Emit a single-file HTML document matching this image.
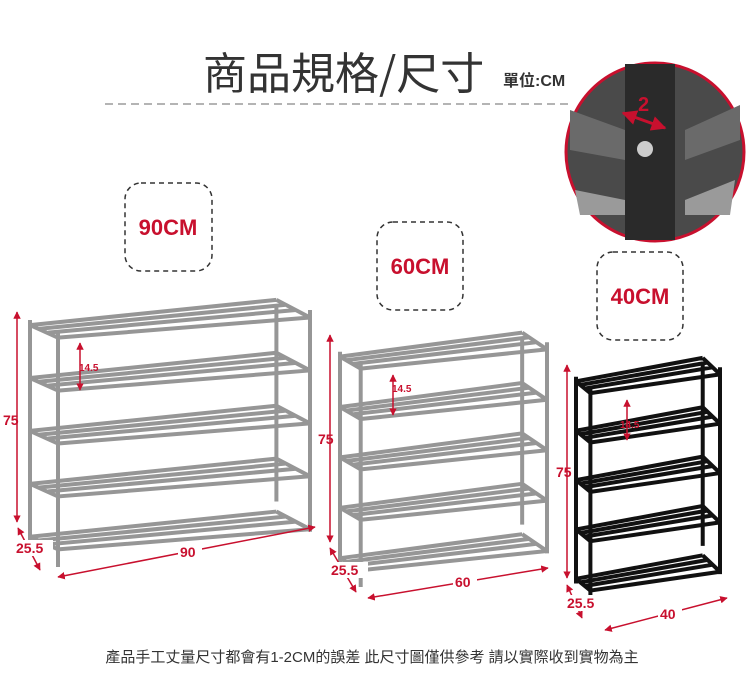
<!DOCTYPE html><html><head><meta charset="utf-8"><style>
body{margin:0;width:750px;height:691px;background:#fff;overflow:hidden;font-family:"Liberation Sans","Noto Sans CJK TC",sans-serif}
svg{position:absolute;left:0;top:0}
</style></head><body>
<svg width="750" height="691" viewBox="0 0 750 691" xmlns="http://www.w3.org/2000/svg">
<defs>
<symbol id="shelf" viewBox="0 0 100 100" preserveAspectRatio="none" overflow="visible">
 <g fill="none">
  <line x1="0" y1="2" x2="0" y2="90" vector-effect="non-scaling-stroke"/>
  <line x1="88" y1="-4" x2="88" y2="74" vector-effect="non-scaling-stroke"/>
  <path vector-effect="non-scaling-stroke" d="
  M0,4 L88,-6 M3,5.5 L91,-4 M6.5,7 L95,-2 M10,9 L100,1 M0,4 L10,9 M88,-6 L100,1
  M0,25 L88,15 M3,26.5 L91,17 M6.5,28 L95,19 M10,30 L100,22 M0,25 L10,30 M88,15 L100,22
  M0,46 L88,36 M3,47.5 L91,38 M6.5,49 L95,40 M10,51 L100,43 M0,46 L10,51 M88,36 L100,43
  M0,67 L88,57 M3,68.5 L91,59 M6.5,70 L95,61 M10,72 L100,64 M0,67 L10,72 M88,57 L100,64
  M0,88 L88,78 M3,89.5 L91,80 M6.5,91 L95,82 M10,93 L100,85 M0,88 L10,93 M88,78 L100,85"/>
  <line x1="10" y1="6" x2="10" y2="100" vector-effect="non-scaling-stroke"/>
  <line x1="100" y1="-2" x2="100" y2="86" vector-effect="non-scaling-stroke"/>
 </g>
</symbol>
<marker id="ar" viewBox="0 0 10 10" refX="9" refY="5" markerWidth="5" markerHeight="5" orient="auto-start-reverse"><path d="M0,0L10,5L0,10z" fill="#c8102e"/></marker>
</defs>

<text x="203" y="89" font-size="44" fill="#333" font-family="'Noto Sans CJK TC',sans-serif">商品規格/尺寸</text>
<text x="503" y="86" font-size="16" font-weight="bold" fill="#333" font-family="'Liberation Sans','Noto Sans CJK TC',sans-serif">單位:CM</text>
<line x1="105" y1="104" x2="570" y2="104" stroke="#888" stroke-dasharray="8,5" stroke-width="1.2"/>

<circle cx="655" cy="152" r="89" fill="#4a4a4a" stroke="#c8102e" stroke-width="3"/>
<path d="M570,110 L625,130 L625,160 L570,150z M685,130 L740,105 L740,140 L685,160z" fill="#6a6a6a"/>
<path d="M575,190 L625,200 L625,215 L580,215z M685,200 L735,180 L730,215 L685,215z" fill="#9a9a9a"/>
<rect x="625" y="64" width="50" height="176" fill="#2a2a2a"/>
<circle cx="645" cy="149" r="8" fill="#ccc"/>
<text x="638" y="111" font-size="20" font-weight="bold" fill="#c8102e">2</text>
<line x1="623" y1="113" x2="665" y2="128" stroke="#c8102e" stroke-width="3" marker-start="url(#ar)" marker-end="url(#ar)"/>

<g fill="none" stroke="#333" stroke-width="1.5" stroke-dasharray="5,4">
<rect x="125" y="183" width="87" height="88" rx="16"/>
<rect x="377" y="222" width="86" height="88" rx="16"/>
<rect x="597" y="252" width="86" height="88" rx="16"/>
</g>
<g font-size="22" font-weight="bold" fill="#c8102e" text-anchor="middle">
<text x="168" y="235">90CM</text><text x="420" y="274">60CM</text><text x="640" y="304">40CM</text>
</g>

<use href="#shelf" x="30" y="315" width="280" height="252" stroke="#969696" stroke-width="4"/>
<use href="#shelf" x="340" y="347" width="207" height="240" stroke="#969696" stroke-width="4"/>
<use href="#shelf" x="576" y="372" width="144" height="235" stroke="#111" stroke-width="4"/>

<g stroke="#c8102e" stroke-width="1.5" fill="none" marker-start="url(#ar)" marker-end="url(#ar)">
<line x1="17" y1="312" x2="17" y2="522"/>
<line x1="18" y1="528" x2="40" y2="570"/>
<line x1="58" y1="577" x2="315" y2="527"/>
<line x1="80" y1="343" x2="80" y2="390"/>
<line x1="330" y1="335" x2="330" y2="542"/>
<line x1="330" y1="548" x2="356" y2="592"/>
<line x1="368" y1="598" x2="548" y2="568"/>
<line x1="393" y1="375" x2="393" y2="415"/>
<line x1="567" y1="365" x2="567" y2="578"/>
<line x1="567" y1="585" x2="582" y2="618"/>
<line x1="605" y1="630" x2="727" y2="598"/>
<line x1="627" y1="400" x2="627" y2="440"/>
</g>
<g font-weight="bold" fill="#c8102e" font-size="14">
<text x="3" y="425">75</text><rect x="15" y="540" width="38" height="16" fill="#fff"/><text x="16" y="553">25.5</text>
<rect x="178" y="544" width="24" height="16" fill="#fff"/><text x="180" y="557">90</text>
<text x="318" y="444">75</text><rect x="330" y="562" width="38" height="16" fill="#fff"/><text x="331" y="575">25.5</text>
<rect x="453" y="574" width="24" height="16" fill="#fff"/><text x="455" y="587">60</text>
<text x="556" y="477">75</text><rect x="566" y="595" width="38" height="16" fill="#fff"/><text x="567" y="608">25.5</text>
<rect x="658" y="606" width="24" height="16" fill="#fff"/><text x="660" y="619">40</text>
</g>
<g font-size="10" fill="#c8102e" font-weight="bold">
<text x="79" y="371">14.5</text><text x="392" y="392">14.5</text><text x="620" y="428">14.5</text>
</g>
<text x="372" y="662" font-size="15" fill="#333" text-anchor="middle" font-family="'Liberation Sans','Noto Sans CJK TC',sans-serif">產品手工丈量尺寸都會有1-2CM的誤差  此尺寸圖僅供參考  請以實際收到實物為主</text>
</svg>
</body></html>
